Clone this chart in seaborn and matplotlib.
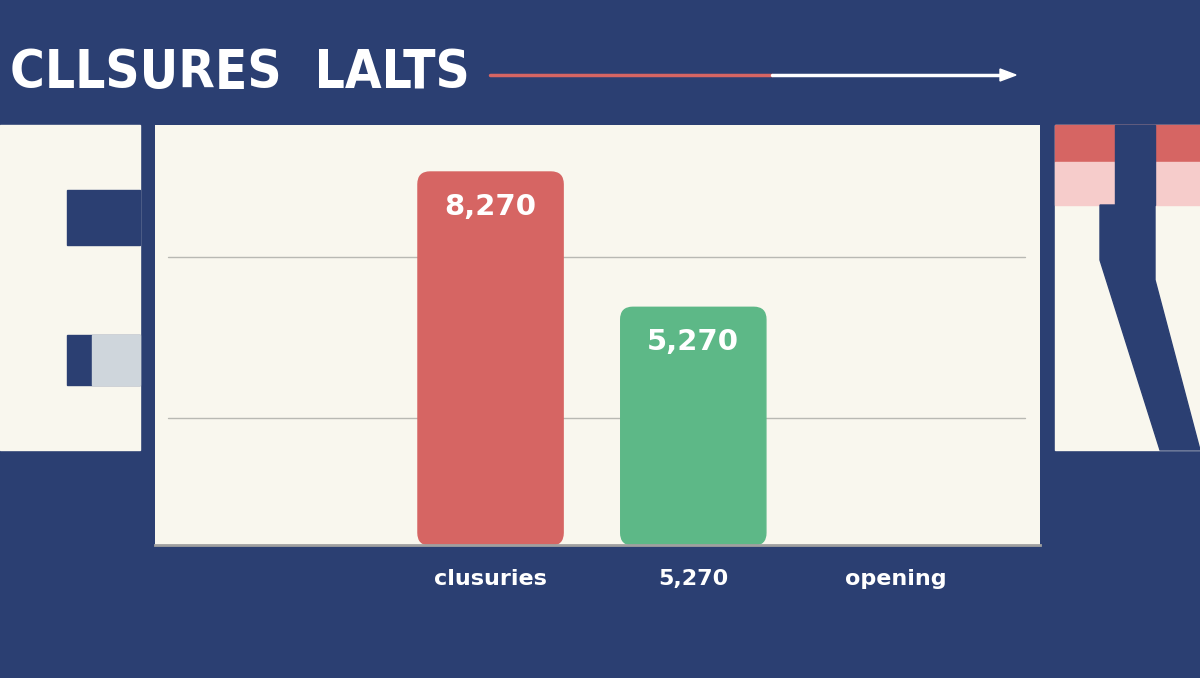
import matplotlib
matplotlib.use("Agg")
import matplotlib.pyplot as plt
import seaborn as sns
import pandas as pd
from matplotlib.patches import Rectangle, Polygon, FancyBboxPatch

categories = ["clusuries", "5,270", "opening"]
values = [8270, 5270, 0]
bar_labels = ["8,270", "5,270", ""]
grid_vals = [2815, 6385]
title = "CLLSURES  LALTS"

NAVY = "#2b3f72"; CREAM = "#f9f7ee"; RED = "#d66563"; GREEN = "#5db887"

sns.set_theme(style="white")
fig = plt.figure(figsize=(12, 6.78), dpi=100)
fig.patch.set_facecolor(NAVY)
H = 678.0
def fy(y): return 1 - y / H
def rect(x0, y0, x1, y1, c):
    fig.add_artist(Rectangle((x0/1200, fy(y1)), (x1-x0)/1200, (y1-y0)/H, color=c, transform=fig.transFigure, zorder=0))
# left "E"
rect(0, 125, 140, 450, CREAM)
rect(67, 190, 140, 245, NAVY)
rect(67, 335, 140, 385, NAVY)
rect(92, 335, 140, 385, "#cfd6dc")
# right "N"
rect(1055, 125, 1200, 450, CREAM)
rect(1055, 125, 1200, 162, RED)
rect(1055, 162, 1200, 205, "#f6cccb")
rect(1115, 125, 1155, 162, NAVY)
rect(1115, 162, 1155, 205, NAVY)
pts = [(1100, 205), (1155, 205), (1155, 280), (1200, 450), (1160, 450), (1100, 260)]
fig.add_artist(Polygon([(x/1200, fy(y)) for x, y in pts], closed=True, color=NAVY, transform=fig.transFigure, zorder=0))

fig.text(10/1200, fy(73), title, color="white", fontsize=38, fontweight="bold",
         fontstretch="condensed", family=["DejaVu Sans"], va="center", ha="left")
# arrow
fig.add_artist(plt.Line2D([490/1200, 772/1200], [fy(75)]*2, color=RED, lw=2.5, transform=fig.transFigure))
fig.add_artist(plt.Line2D([772/1200, 1005/1200], [fy(75)]*2, color="white", lw=2.5, transform=fig.transFigure))
fig.add_artist(Polygon([(1000/1200, fy(69)), (1016/1200, fy(75)), (1000/1200, fy(81))], color="white", transform=fig.transFigure))

ax = fig.add_axes([155/1200, fy(545), 885/1200, 420/H])
ax.set_facecolor(CREAM)
df = pd.DataFrame({"cat": categories, "val": values})
sns.barplot(data=df, x="cat", y="val", hue="cat", palette=[RED, GREEN, GREEN], saturation=1,
            width=0.716, legend=False, ax=ax)
ax.set_xlim(-1.655, 2.71)
ax.set_ylim(0, 9312)
for g in grid_vals:
    ax.axhline(g, xmin=13/885, xmax=870/885, color="#b9b9b3", lw=1, zorder=0)
for p, lab in zip(list(ax.patches), bar_labels):
    x, w, h = p.get_x(), p.get_width(), p.get_height()
    c = p.get_facecolor()
    p.set_visible(False)
    if h > 0:
        ax.add_patch(FancyBboxPatch((x, 0), w, h, boxstyle="round,pad=0,rounding_size=0.06",
                                    mutation_aspect=9312/4.365*885/420, color=c, zorder=2))
        ax.text(x + w/2, h - 780, lab, color="white", fontsize=21, fontweight="bold", ha="center", va="center", zorder=3)
for s in ["top", "right", "left"]:
    ax.spines[s].set_visible(False)
ax.spines["bottom"].set_color("#a0a0a0"); ax.spines["bottom"].set_linewidth(2)
ax.set_yticks([]); ax.set_xlabel(""); ax.set_ylabel("")
ax.tick_params(axis="x", length=0, pad=17)
for t in ax.get_xticklabels():
    t.set_color("white"); t.set_fontsize(16); t.set_fontweight("bold")
fig.savefig("out.png", dpi=100, facecolor=NAVY)
